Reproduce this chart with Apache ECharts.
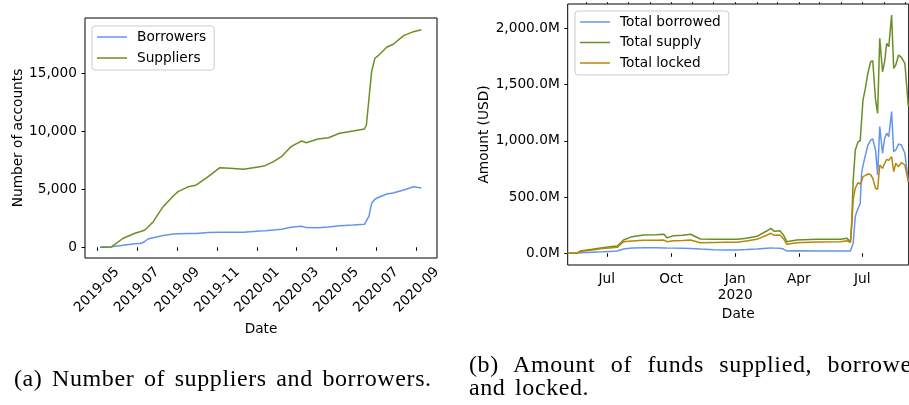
<!DOCTYPE html>
<html><head><meta charset="utf-8">
<script src="https://cdn.jsdelivr.net/npm/echarts@6/dist/echarts.min.js"></script>
<style>
html,body{margin:0;padding:0;width:909px;height:405px;overflow:hidden;background:#fff}
#c{position:absolute;left:0;top:0;width:909px;height:405px}
.cap{position:absolute;font-family:"Liberation Serif","DejaVu Serif",serif;font-size:24px;letter-spacing:0.6px;word-spacing:3px;color:#000;line-height:23px}
#capA{left:14px;top:367px;white-space:nowrap}
#capB{left:469px;top:353px;width:462px;text-align:justify}
</style></head><body>
<div id="c"></div>
<div class="cap" id="capA">(a) Number of suppliers and borrowers.</div>
<div class="cap" id="capB">(b) Amount of funds supplied, borrowed, and locked.</div>
<script>
// ---- (a) number of accounts ----
const accDates = ['2019-05-06','2019-05-23','2019-06-10','2019-06-28','2019-07-08','2019-07-13','2019-07-18','2019-07-26','2019-08-10','2019-08-26','2019-09-02','2019-09-18','2019-09-30','2019-10-18','2019-11-05','2019-11-20','2019-12-11','2020-01-05','2020-01-13','2020-01-26','2020-02-07','2020-02-20','2020-02-25','2020-03-09','2020-03-16','2020-04-03','2020-04-19','2020-05-06','2020-05-27','2020-06-13','2020-06-16','2020-06-20','2020-06-24','2020-06-29','2020-07-04','2020-07-17','2020-07-27','2020-08-12','2020-08-27','2020-09-08'];
const borrowers = [0,50,180,300,345,500,717,820,1010,1150,1170,1190,1200,1270,1295,1295,1300,1408,1436,1500,1560,1700,1753,1814,1700,1693,1760,1865,1930,1986,2100,2700,3800,4150,4300,4600,4690,4950,5230,5121];
const suppliers = [0,30,780,1209,1380,1494,1750,2210,3506,4450,4802,5233,5380,6097,6874,6822,6736,6960,7047,7393,7825,8603,8800,9180,9033,9353,9465,9845,10043,10216,10562,12868,15165,16322,16547,17272,17531,18274,18620,18792];
const accTickDates = ['2019-05-01','2019-07-01','2019-09-01','2019-11-01','2020-01-01','2020-03-01','2020-05-01','2020-07-01','2020-09-01'];
const accYTicks = [0,5000,10000,15000];

// ---- (b) amounts in millions of USD ----
const fundDates = ['2019-05-06','2019-05-20','2019-05-24','2019-06-10','2019-06-25','2019-07-05','2019-07-16','2019-07-25','2019-08-06','2019-08-23','2019-09-10','2019-09-21','2019-09-25','2019-10-05','2019-10-18','2019-10-29','2019-11-12','2019-12-01','2019-12-20','2020-01-04','2020-01-17','2020-02-01','2020-02-15','2020-02-21','2020-02-26','2020-03-05','2020-03-10','2020-03-15','2020-03-29','2020-04-27','2020-05-31','2020-06-09','2020-06-14','2020-06-16','2020-06-18','2020-06-21','2020-06-25','2020-06-28','2020-06-30','2020-07-02','2020-07-05','2020-07-09','2020-07-13','2020-07-16','2020-07-20','2020-07-23','2020-07-26','2020-07-30','2020-08-02','2020-08-05','2020-08-08','2020-08-12','2020-08-15','2020-08-18','2020-08-22','2020-08-26','2020-08-31','2020-09-05'];
const borrowed = [0,2,5,10,14,17,20,38,47,50,49,48,47,46,45,43,38,32,29,29,33,38,45,48,46,44,38,20,22,21,20,20,20,25,90,330,400,440,711,780,859,960,1007,1016,918,696,1126,889,1022,1067,1037,1259,903,918,971,963,889,637];
const supplied = [0,3,20,35,50,58,65,118,148,163,165,169,139,157,160,169,127,125,124,124,133,151,198,222,195,201,163,103,118,124,124,133,103,300,650,918,992,1000,1007,1363,1452,1600,1703,1712,1363,1244,1911,1614,1703,1866,1837,2118,1644,1674,1763,1742,1689,1303];
const locked = [0,3,16,30,42,48,53,103,110,115,117,118,103,112,114,118,94,96,98,98,110,124,160,178,160,163,130,80,94,100,103,112,94,250,480,580,628,615,640,681,690,705,700,666,578,569,785,755,800,835,826,859,726,800,770,805,785,637];
const fundTickDates = ['2019-07-01','2019-10-01','2020-01-01','2020-04-01','2020-07-01'];
const fundMinorDates = ['2019-06-01','2019-07-01','2019-08-01','2019-09-01','2019-10-01','2019-11-01','2019-12-01','2020-01-01','2020-02-01','2020-03-01','2020-04-01','2020-05-01','2020-06-01','2020-07-01','2020-08-01','2020-09-01'];
const fundYTicks = [0,500,1000,1500,2000];
const monthNames = ['Jan','Feb','Mar','Apr','May','Jun','Jul','Aug','Sep','Oct','Nov','Dec'];

const DAY = 86400000;
const ts = s => echarts.time.parse(s).getTime();
const pad = n => (n < 10 ? '0' : '') + n;
const FONT = 'DejaVu Sans';
const FS = 13.7;
const txt = {fontFamily: FONT, fontSize: FS, color: '#000'};
const LINE_ICON = 'path://M0 0H20V1H0Z';

const chart = echarts.init(document.getElementById('c'), null, {renderer: 'canvas'});
const pairs = (dates, vals) => dates.map((d, i) => [ts(d), vals[i]]);

chart.setOption({
  animation: false,
  backgroundColor: '#fff',
  grid: [
    {left: 85, top: 18, width: 352, height: 240, show: true, borderColor: '#000', borderWidth: 1, containLabel: false},
    {left: 567.7, top: 4, width: 341, height: 261, show: true, borderColor: '#000', borderWidth: 1, containLabel: false}
  ],
  legend: [
    {
      left: 92, top: 26, orient: 'vertical', selectedMode: false, icon: LINE_ICON,
      itemWidth: 30, itemHeight: 14, itemGap: 7, padding: [4, 8, 5, 5],
      backgroundColor: 'rgba(255,255,255,0.8)', borderColor: '#ccc', borderWidth: 1, borderRadius: 3,
      textStyle: Object.assign({}, txt, {padding: [0, 0, 0, 5]}),
      data: ['Borrowers', 'Suppliers']
    },
    {
      left: 575, top: 11, orient: 'vertical', selectedMode: false, icon: LINE_ICON,
      itemWidth: 30, itemHeight: 14, itemGap: 6.5, padding: [4, 8, 5, 5],
      backgroundColor: 'rgba(255,255,255,0.8)', borderColor: '#ccc', borderWidth: 1, borderRadius: 3,
      textStyle: Object.assign({}, txt, {padding: [0, 0, 0, 5]}),
      data: ['Total borrowed', 'Total supply', 'Total locked']
    }
  ],
  xAxis: [
    {
      gridIndex: 0, type: 'value',
      min: ts('2019-05-01') - 18.4 * DAY, max: ts('2020-09-01') + 31 * DAY,
      axisLine: {show: false}, splitLine: {show: false},
      axisTick: {show: true, length: 3.5, customValues: accTickDates.map(ts), lineStyle: {color: '#000', width: 1}},
      axisLabel: Object.assign({}, txt, {
        customValues: accTickDates.map(ts), rotate: 45, align: 'center', verticalAlign: 'middle', margin: 32,
        formatter: v => { const d = new Date(v); return d.getFullYear() + '-' + pad(d.getMonth() + 1); }
      }),
      name: 'Date', nameLocation: 'middle', nameGap: 60, nameTextStyle: txt
    },
    {
      gridIndex: 1, type: 'value',
      min: ts('2019-05-06'), max: ts('2020-09-05') + 0.5 * DAY,
      axisLine: {show: false}, splitLine: {show: false},
      axisTick: {show: true, length: 3.5, customValues: fundTickDates.map(ts), lineStyle: {color: '#000', width: 1}},
      axisLabel: Object.assign({}, txt, {
        customValues: fundTickDates.map(ts), margin: 6, lineHeight: 16,
        formatter: v => { const d = new Date(v); const m = d.getMonth(); return m === 0 ? monthNames[m] + '\n' + d.getFullYear() : monthNames[m]; }
      }),
      name: 'Date', nameLocation: 'middle', nameGap: 39, nameTextStyle: txt
    },
    {
      gridIndex: 1, type: 'value',
      min: ts('2019-05-06'), max: ts('2020-09-05') + 0.5 * DAY,
      axisLine: {show: false}, splitLine: {show: false},
      axisTick: {show: true, length: 2, customValues: fundMinorDates.map(ts), lineStyle: {color: '#000', width: 0.8}},
      axisLabel: {show: false}
    }
  ],
  yAxis: [
    {
      gridIndex: 0, type: 'value', min: -925, max: 19800,
      axisLine: {show: false}, splitLine: {show: false},
      axisTick: {show: true, length: 3.5, customValues: accYTicks, lineStyle: {color: '#000', width: 1}},
      axisLabel: Object.assign({}, txt, {customValues: accYTicks, margin: 8, formatter: v => v.toLocaleString('en-US')}),
      name: 'Number of accounts', nameLocation: 'middle', nameGap: 58, nameTextStyle: txt
    },
    {
      gridIndex: 1, type: 'value', min: -104, max: 2216,
      axisLine: {show: false}, splitLine: {show: false},
      axisTick: {show: true, length: 3.5, customValues: fundYTicks, lineStyle: {color: '#000', width: 1}},
      axisLabel: Object.assign({}, txt, {customValues: fundYTicks, margin: 8,
        formatter: v => v.toLocaleString('en-US', {minimumFractionDigits: 1, maximumFractionDigits: 1}) + 'M'}),
      name: 'Amount (USD)', nameLocation: 'middle', nameGap: 76, nameTextStyle: txt
    }
  ],
  series: [
    {name: 'Borrowers', type: 'line', xAxisIndex: 0, yAxisIndex: 0, symbol: 'none', color: '#6495ED', lineStyle: {width: 1.5}, data: pairs(accDates, borrowers)},
    {name: 'Suppliers', type: 'line', xAxisIndex: 0, yAxisIndex: 0, symbol: 'none', color: '#6B8E23', lineStyle: {width: 1.5}, data: pairs(accDates, suppliers)},
    {name: 'Total borrowed', type: 'line', xAxisIndex: 1, yAxisIndex: 1, symbol: 'none', color: '#6495ED', lineStyle: {width: 1.5}, data: pairs(fundDates, borrowed)},
    {name: 'Total supply', type: 'line', xAxisIndex: 1, yAxisIndex: 1, symbol: 'none', color: '#6B8E23', lineStyle: {width: 1.5}, data: pairs(fundDates, supplied)},
    {name: 'Total locked', type: 'line', xAxisIndex: 1, yAxisIndex: 1, symbol: 'none', color: '#B8860B', lineStyle: {width: 1.5}, data: pairs(fundDates, locked)}
  ]
});
</script>
</body></html>
